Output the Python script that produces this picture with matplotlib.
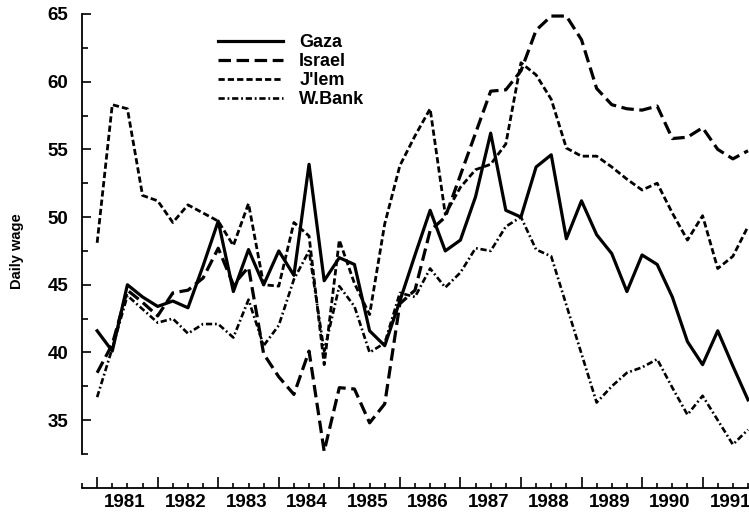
import numpy as np
import matplotlib
matplotlib.use("Agg")
import matplotlib.pyplot as plt
import matplotlib.transforms as mtransforms

plt.rcParams['font.family'] = ['Liberation Sans', 'DejaVu Sans']
plt.rcParams['font.weight'] = 'bold'
plt.rcParams['lines.scale_dashes'] = False

# quarterly daily wage, first quarter of 1981 to last quarter of 1991
gaza = [41.6, 40.1, 45.0, 44.1, 43.4, 43.8, 43.3, 46.4, 49.7, 44.5,
        47.6, 45.0, 47.5, 45.7, 53.9, 45.3, 47.0, 46.5, 41.6, 40.5,
        43.8, 47.2, 50.5, 47.5, 48.3, 51.5, 56.2, 50.5, 50.0, 53.7,
        54.6, 48.4, 51.2, 48.7, 47.3, 44.5, 47.2, 46.5, 44.1, 40.8,
        39.1, 41.6, 39.0, 36.5]
israel = [38.5, 40.6, 44.6, 43.7, 42.7, 44.4, 44.6, 45.5, 47.7, 45.0,
          46.3, 39.9, 38.2, 36.9, 40.1, 32.7, 37.4, 37.3, 34.8, 36.2,
          43.6, 44.6, 49.0, 50.0, 53.1, 56.2, 59.3, 59.4, 60.8, 63.8,
          64.85, 64.85, 63.1, 59.5, 58.3, 58.0, 57.9, 58.2, 55.8, 55.9,
          56.6, 55.0, 54.3, 54.9]
jlem = [48.1, 58.3, 58.0, 51.6, 51.2, 49.6, 50.9, 50.3, 49.7, 47.9,
        51.0, 45.0, 44.9, 49.6, 48.6, 39.1, 48.3, 45.1, 42.8, 49.5,
        53.8, 56.0, 58.0, 50.2, 52.2, 53.5, 53.9, 55.4, 61.4, 60.5,
        58.7, 55.1, 54.5, 54.5, 53.7, 52.8, 52.0, 52.5, 50.3, 48.3,
        50.1, 46.2, 47.1, 49.3]
wbank = [36.7, 40.3, 44.2, 43.2, 42.2, 42.5, 41.4, 42.1, 42.1, 41.1,
         43.9, 40.5, 42.0, 45.4, 47.5, 40.1, 44.9, 43.4, 40.0, 40.7,
         44.4, 44.1, 46.2, 44.8, 45.9, 47.7, 47.5, 49.3, 50.0, 47.6,
         47.1, 43.5, 39.9, 36.3, 37.5, 38.5, 38.9, 39.5, 37.4, 35.4,
         36.8, 35.0, 33.2, 34.3]
years = list(range(1981, 1992))

q = np.arange(len(gaza))

fig = plt.figure(figsize=(7.49, 5.15), dpi=100)
ax = fig.add_axes([82/749, 1 - 454/515, (748 - 82)/749, (454 - 14)/515])

ax.plot(q, gaza, color='black', lw=2.3, label='Gaza', clip_on=False)
ax.plot(q, israel, color='black', lw=2.3, dashes=(9, 4), label='Israel', clip_on=False)
ax.plot(q, jlem, color='black', lw=2.0, dashes=(4.5, 2.2), label="J'lem", clip_on=False)
ax.plot(q, wbank, color='black', lw=1.9, dashes=(4.5, 2, 1.3, 2), label='W.Bank', clip_on=False)

ax.set_xlim(-1, 43)
ax.set_ylim(32.5, 65)

for s in ['top', 'right']:
    ax.spines[s].set_visible(False)
ax.spines['left'].set_linewidth(1.3)
ax.spines['bottom'].set_linewidth(1.3)
ax.spines['bottom'].set_position(('outward', 24.5))

ax.set_yticks(np.arange(35, 66, 5))
ax.set_yticks(np.arange(32.5, 65, 5), minor=True)
ax.tick_params(axis='y', which='major', direction='in', length=6.5, width=1.2,
               pad=10, labelsize=13.5)
ax.tick_params(axis='y', which='minor', direction='in', length=4, width=1.2)

ax.set_xticks(np.arange(0, 43, 4))
ax.set_xticks(np.arange(-1, 44, 1), minor=True)
ax.tick_params(axis='x', which='major', direction='in', length=8, width=1.2,
               labelbottom=False)
ax.tick_params(axis='x', which='minor', direction='in', length=3.8, width=1.2)

trans = mtransforms.blended_transform_factory(ax.transData, ax.transAxes)
for k, yr in enumerate(years):
    ax.text(1.85 + 4 * k, -0.111, str(yr), transform=trans, ha='center',
            va='center', fontsize=13.5, fontweight='bold')

ax.set_ylabel('Daily wage', fontsize=10.5, fontweight='bold')
ax.yaxis.set_label_coords(-0.087, 0.46)

ax.legend(loc='upper left', bbox_to_anchor=(218/749, 1 - 34/515),
          bbox_transform=fig.transFigure, frameon=False, fontsize=13,
          handlelength=3.6, handletextpad=0.9, labelspacing=0.12,
          borderpad=0, borderaxespad=0)

fig.savefig('out.png', dpi=100)
